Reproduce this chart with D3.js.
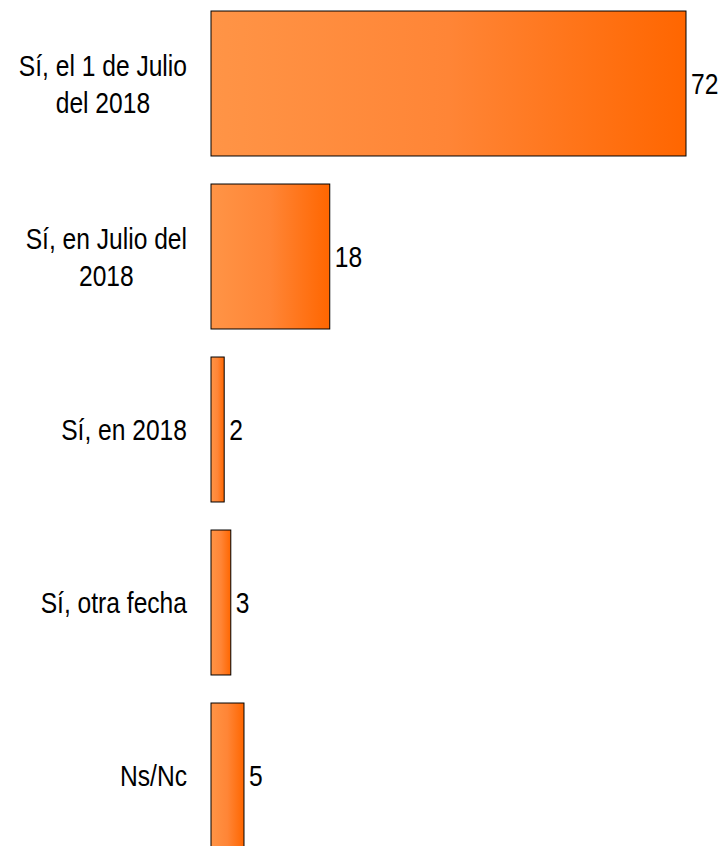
<!DOCTYPE html>
<html lang="es">
<head>
    <meta charset="UTF-8">
    <title>Gráfico de barras</title>
    <script src="https://cdn.jsdelivr.net/npm/d3@7"></script>
    <style>
        body { margin: 0; background: #fff; }
        text { font-family: "Liberation Sans", Arial, sans-serif; font-size: 30px; fill: #000; }
    </style>
</head>
<body>
    <svg width="724" height="846"></svg>
    <script>
        // Datos
        const categories = ["Sí, el 1 de Julio del 2018", "Sí, en Julio del 2018", "Sí, en 2018", "Sí, otra fecha", "Ns/Nc"];
        const values = [72, 18, 2, 3, 5];

        const svg = d3.select("svg");
        const narrow = 0.82; // simula una fuente estrecha

        const defs = svg.append("defs");
        const grad = defs.append("linearGradient")
            .attr("id", "barGrad")
            .attr("x1", "0%").attr("x2", "100%")
            .attr("y1", "0%").attr("y2", "0%");
        grad.append("stop").attr("offset", "0%").attr("stop-color", "#ff9446");
        grad.append("stop").attr("offset", "50%").attr("stop-color", "#ff8536");
        grad.append("stop").attr("offset", "100%").attr("stop-color", "#ff6600");

        const x = d3.scaleLinear()
            .domain([0, 72])
            .range([211, 686]);

        const y = d3.scaleBand()
            .domain(categories)
            .range([-3, 862])
            .paddingInner(0.162)
            .paddingOuter(0.081);

        const data = categories.map((c, i) => ({cat: c, val: values[i]}));

        svg.selectAll(".bar")
            .data(data)
            .enter().append("rect")
            .attr("class", "bar")
            .attr("x", x(0))
            .attr("y", d => y(d.cat))
            .attr("width", d => x(d.val) - x(0))
            .attr("height", y.bandwidth())
            .attr("fill", "url(#barGrad)")
            .attr("stroke", "#000")
            .attr("stroke-width", 1);

        // etiquetas de valor
        svg.selectAll(".val")
            .data(data)
            .enter().append("text")
            .attr("class", "val")
            .attr("transform", d => `translate(${x(d.val) + 5},${y(d.cat) + y.bandwidth() / 2}) scale(${narrow},1)`)
            .attr("dy", "0.36em")
            .text(d => d.val);

        // etiquetas de categoría (con salto de línea)
        const labelRight = 187;
        const maxW = 185;
        const lineH = 37;
        data.forEach(d => {
            const g = svg.append("g");
            const probe = g.append("text");
            const len = s => { probe.text(s); return probe.node().getComputedTextLength() * narrow; };
            const words = d.cat.split(" ");
            const lines = [];
            let cur = [];
            words.forEach(w => {
                cur.push(w);
                if (len(cur.join(" ")) > maxW && cur.length > 1) {
                    cur.pop();
                    lines.push(cur.join(" "));
                    cur = [w];
                }
            });
            lines.push(cur.join(" "));
            const blockW = d3.max(lines.map(len));
            probe.remove();
            const cy = y(d.cat) + y.bandwidth() / 2;
            lines.forEach((l, i) => {
                g.append("text")
                    .attr("transform", `translate(${labelRight - blockW / 2},${cy + (i - (lines.length - 1) / 2) * lineH}) scale(${narrow},1)`)
                    .attr("dy", "0.36em")
                    .attr("text-anchor", "middle")
                    .text(l);
            });
        });
    </script>
</body>
</html>
